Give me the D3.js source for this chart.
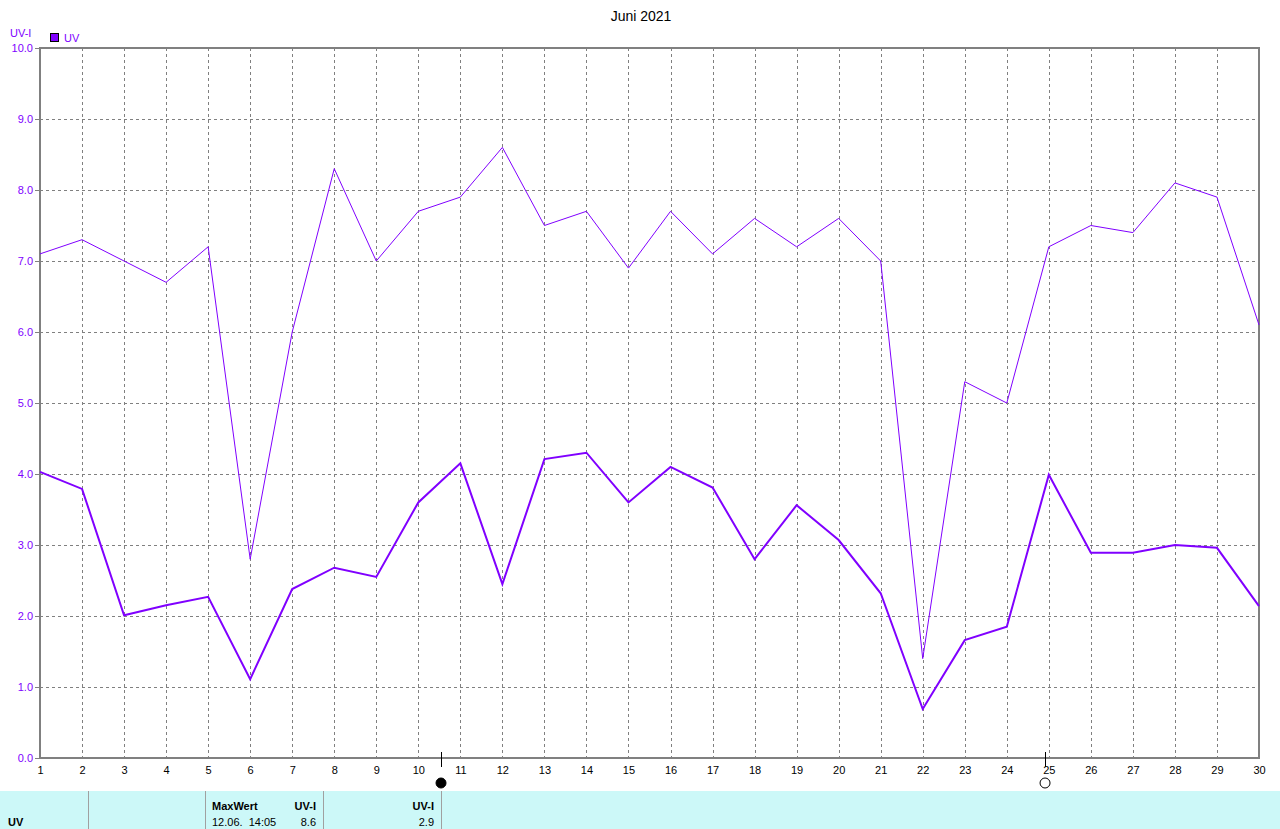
<!DOCTYPE html>
<html>
<head>
<meta charset="utf-8">
<script src="https://cdn.jsdelivr.net/npm/d3@7"></script>
<style>
  html, body { margin: 0; padding: 0; background: #fff; }
  svg { display: block; font-family: "Liberation Sans", Arial, sans-serif; }
</style>
</head>
<body>
<svg id="chart" width="1280" height="829"></svg>
<script>
const days = d3.range(1, 31);
const maxUV = [7.1, 7.3, 7.0, 6.7, 7.2, 2.8, 6.0, 8.3, 7.0, 7.7,
               7.9, 8.6, 7.5, 7.7, 6.9, 7.7, 7.1, 7.6, 7.2, 7.6,
               7.0, 1.4, 5.3, 5.0, 7.2, 7.5, 7.4, 8.1, 7.9, 6.1];
const meanUV = [4.03, 3.79, 2.01, 2.15, 2.27, 1.11, 2.38, 2.68, 2.55, 3.60,
                4.15, 2.45, 4.21, 4.30, 3.60, 4.10, 3.81, 2.80, 3.56, 3.07,
                2.32, 0.69, 1.66, 1.85, 3.99, 2.89, 2.89, 3.00, 2.96, 2.14];
const yTicks = [0, 1, 2, 3, 4, 5, 6, 7, 8, 9, 10];
const moonPhases = [{ day: 10.54, filled: true }, { day: 24.91, filled: false }];
const title = "Juni 2021";
const seriesName = "UV";
const unit = "UV-I";
const tableCols = [
  { x: 8, header: "", value: "UV", anchor: "start", boldValue: true },
  { x: 212, header: "MaxWert", value: "12.06.  14:05", anchor: "start" },
  { x: 316, header: "UV-I", value: "8.6", anchor: "end" },
  { x: 434, header: "UV-I", value: "2.9", anchor: "end" }
];
const tableSeparators = [88, 205, 323, 441];

const purple = "#8000ff";
const gray = "#808080";
const svg = d3.select("#chart");
const L = 40, R = 1259, T = 48, B = 758;

const x = d3.scaleLinear().domain([1, 30]).range([L, R]);
const y = d3.scaleLinear().domain([0, 10]).range([B, T]);

// title
svg.append("text").attr("x", 641).attr("y", 21).attr("text-anchor", "middle")
  .attr("font-size", 14).attr("fill", "#000").text(title);

// grid
const grid = svg.append("g");
grid.selectAll("line.h").data(yTicks.slice(1, -1)).join("line")
  .attr("x1", L).attr("x2", R).attr("y1", d => y(d) + 0.5).attr("y2", d => y(d) + 0.5)
  .attr("stroke", gray).attr("stroke-dasharray", "3,3");
grid.selectAll("line.v").data(days.slice(1, -1)).join("line")
  .attr("y1", T).attr("y2", B).attr("x1", d => Math.round(x(d)) + 0.5).attr("x2", d => Math.round(x(d)) + 0.5)
  .attr("stroke", gray).attr("stroke-dasharray", "3,3");

// frame
svg.append("rect").attr("x", L).attr("y", T).attr("width", R - L).attr("height", B - T)
  .attr("fill", "none").attr("stroke", gray).attr("stroke-width", 2);

// y axis labels
const yAxis = d3.axisLeft(y).tickValues(yTicks).tickFormat(d3.format(".1f")).tickSize(5).tickPadding(2);
const ya = svg.append("g").attr("transform", `translate(${L},0)`).call(yAxis);
ya.select(".domain").remove();
ya.selectAll(".tick line").attr("stroke", gray);
ya.selectAll(".tick text").attr("fill", purple).attr("font-size", 11)
  .attr("font-family", "'Liberation Sans', Arial, sans-serif");

// x axis labels
const xAxis = d3.axisBottom(x).tickValues(days).tickFormat(d3.format("d")).tickSize(0).tickPadding(8);
const xa = svg.append("g").attr("transform", `translate(0,${B})`).call(xAxis);
xa.select(".domain").remove();
xa.selectAll(".tick text").attr("fill", "#000").attr("font-size", 11)
  .attr("font-family", "'Liberation Sans', Arial, sans-serif");

// unit + legend
svg.append("text").attr("x", 10).attr("y", 37).attr("font-size", 11).attr("fill", purple).text(unit);
svg.append("rect").attr("x", 50.5).attr("y", 33.5).attr("width", 8).attr("height", 8)
  .attr("fill", purple).attr("stroke", "#000");
svg.append("text").attr("x", 64).attr("y", 42).attr("font-size", 11).attr("fill", purple).text(seriesName);

// lines
const line = vals => d3.line().x((d, i) => x(days[i])).y(d => y(d))(vals);
svg.append("path").attr("d", line(maxUV)).attr("fill", "none").attr("stroke", purple).attr("stroke-width", 1);
svg.append("path").attr("d", line(meanUV)).attr("fill", "none").attr("stroke", purple).attr("stroke-width", 2);

// moon phases
const mp = svg.append("g").selectAll("g").data(moonPhases).join("g");
mp.append("line").attr("x1", d => Math.round(x(d.day)) + 0.5).attr("x2", d => Math.round(x(d.day)) + 0.5)
  .attr("y1", 752).attr("y2", 767).attr("stroke", "#000");
mp.append("circle").attr("cx", d => x(d.day)).attr("cy", 783).attr("r", 5)
  .attr("fill", d => d.filled ? "#000" : "#fff").attr("stroke", "#000");

// table
svg.append("rect").attr("x", 0).attr("y", 791).attr("width", 1280).attr("height", 38).attr("fill", "#ccf8f8");
svg.selectAll("line.sep").data(tableSeparators).join("line")
  .attr("x1", d => d + 0.5).attr("x2", d => d + 0.5).attr("y1", 791).attr("y2", 829)
  .attr("stroke", "#a0a0a0");
const tc = svg.append("g").selectAll("g").data(tableCols).join("g");
tc.append("text").attr("x", d => d.x).attr("y", 810).attr("text-anchor", d => d.anchor)
  .attr("font-size", 11).attr("font-weight", "bold").text(d => d.header);
tc.append("text").attr("x", d => d.x).attr("y", 826).attr("text-anchor", d => d.anchor)
  .style("white-space", "pre")
  .attr("font-size", 11).attr("font-weight", d => d.boldValue ? "bold" : "normal").text(d => d.value);
</script>
</body>
</html>
